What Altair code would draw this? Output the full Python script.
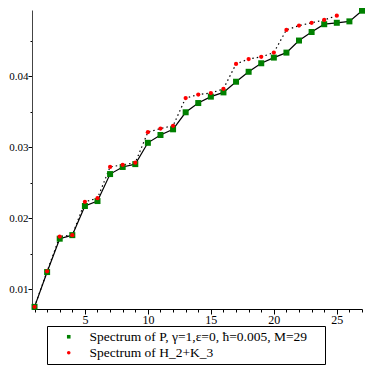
import altair as alt
import pandas as pd

# Spectrum of P (green squares, solid line)
idx_p = list(range(1, 28))
p_vals = [0.0075, 0.0124, 0.0171, 0.0176, 0.0217, 0.0224, 0.0262, 0.0272, 0.0276,
          0.0306, 0.0317, 0.0325, 0.0349, 0.0362, 0.0371, 0.0377, 0.0392, 0.0406,
          0.0418, 0.0426, 0.0433, 0.0450, 0.0462, 0.0473, 0.0475, 0.0477, 0.0492]
# Spectrum of H_2+K_3 (red dots, dotted line)
idx_h = list(range(1, 26))
h_vals = [0.0075, 0.0125, 0.0174, 0.0176, 0.0223, 0.0228, 0.0272, 0.0275, 0.0278,
          0.0321, 0.0326, 0.0330, 0.0369, 0.0374, 0.0376, 0.0382, 0.0417, 0.0424,
          0.0427, 0.0433, 0.0465, 0.0471, 0.0475, 0.0479, 0.0485]

label_p = "Spectrum of P, γ=1,ε=0, ħ=0.005, M=29"
label_h = "Spectrum of H_2+K_3"

df = pd.DataFrame({
    "n": idx_p + idx_h,
    "v": p_vals + h_vals,
    "s": [label_p] * len(idx_p) + [label_h] * len(idx_h),
})

x_ticks = list(range(1, 28))
y_ticks = [0.01, 0.015, 0.02, 0.025, 0.03, 0.035, 0.04, 0.045]

FONT = "Liberation Serif"
major_y = "abs(datum.value*100 - round(datum.value*100)) < 0.001"

x_axis = alt.Axis(
    values=x_ticks, title=None, grid=False,
    labelExpr="datum.value % 5 == 0 ? datum.value : ''",
    tickSize={"condition": {"test": "datum.value % 5 == 0", "value": 5}, "value": 3},
    labelFont=FONT, labelFontSize=12, labelPadding=0, labelFlush=False, labelOverlap=False,
    domainColor="black", tickColor="black", labelColor="black",
)
y_axis = alt.Axis(
    values=y_ticks, title=None, grid=False,
    labelExpr=major_y + " ? format(datum.value, '.2f') : ''",
    tickSize={"condition": {"test": major_y, "value": 4}, "value": 2},
    labelFont=FONT, labelFontSize=11, labelPadding=0, labelFlush=False, labelOverlap=False,
    domainColor="#444", tickColor="black", labelColor="black",
)

xs = alt.Scale(domain=[0.8, 27], nice=False, zero=False)
ys = alt.Scale(domain=[0.0072, 0.0493], nice=False, zero=False)

X = alt.X("n:Q", scale=xs, axis=x_axis)
Y = alt.Y("v:Q", scale=ys, axis=y_axis)

base = alt.Chart(df)

line_p = base.transform_filter(alt.datum.s == label_p).mark_line(
    color="black", strokeWidth=1.2
).encode(x=X, y=Y)

line_h = base.transform_filter(alt.datum.s == label_h).mark_line(
    color="black", strokeWidth=1.2, strokeDash=[1.5, 3]
).encode(x=X, y=Y)

leg = alt.Legend(title=" ", titleOrient="right", titlePadding=14, orient="none",
                 legendX=15, legendY=316, direction="vertical", symbolSize=13)
dom = [label_p, label_h]
C = alt.Color("s:N", scale=alt.Scale(domain=dom, range=["#008000", "#ff0000"]), legend=leg)
S = alt.Shape("s:N", scale=alt.Scale(domain=dom, range=["square", "circle"]), legend=leg)

pts_p = base.transform_filter(alt.datum.s == label_p).mark_point(
    filled=True, opacity=1, size=36
).encode(x=X, y=Y, color=C, shape=S)
pts_h = base.transform_filter(alt.datum.s == label_h).mark_point(
    filled=True, opacity=1, size=18
).encode(x=X, y=Y, color=C, shape=S)

chart = alt.layer(line_p, line_h, pts_p, pts_h).properties(
    width=330, height=299,
    autosize=alt.AutoSizeParams(type="none"),
    padding={"left": 24, "top": 2, "right": 4, "bottom": 56},
).configure(font=FONT).configure_view(stroke=None).configure_axis(
    labelFont=FONT, labelOverlap=False,
).configure_legend(
    strokeColor="black", padding=4, symbolOffset=11, labelOffset=14, symbolSize=13,
    labelFont=FONT, titleFont=FONT, titleFontSize=13,
    labelFontSize=13.5, labelColor="black", rowPadding=1, symbolStrokeWidth=0,
    labelLimit=400,
)

chart.save("out.html", embed_options={"renderer": "svg", "actions": False})
